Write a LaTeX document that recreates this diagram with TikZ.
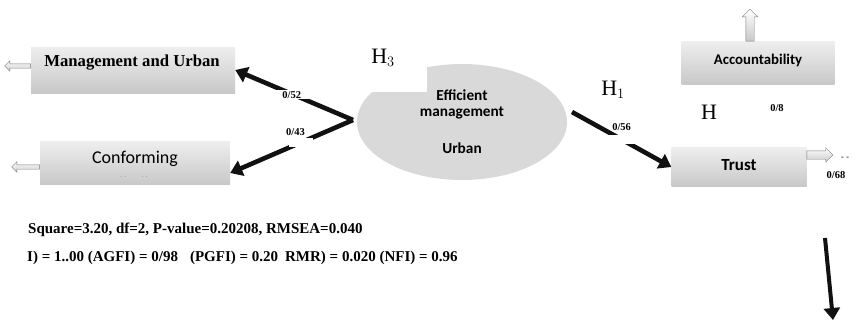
\documentclass[tikz,border=0pt]{standalone}
\usepackage{fontspec}
\setmainfont{Liberation Serif}
\newfontfamily\calfont{Carlito}
\usetikzlibrary{arrows.meta,positioning,shapes.geometric,shapes.arrows}
\definecolor{ink}{HTML}{111111}
\definecolor{boxtop}{HTML}{EEEEEE}
\definecolor{boxbot}{HTML}{C8C8C8}
\definecolor{ellfill}{HTML}{D9D9D9}
\definecolor{hollowedge}{HTML}{7A7A7A}

\tikzset{
  varbox/.style={top color=boxtop,bottom color=boxbot,inner sep=0pt},
  hollow/.style={single arrow,draw=hollowedge,top color=white,bottom color=boxbot,
                 inner sep=2pt,minimum height=26pt,single arrow head extend=3pt},
  pathline/.style={draw=ink,line width=4.6pt,-{Triangle[length=12pt,width=16pt]}},
  gap/.style={fill=white,inner sep=0pt,minimum height=9pt},
  coef/.style={font=\bfseries\fontsize{10.5}{12}\selectfont,inner sep=1pt},
  hyp/.style={font=\fontsize{22}{24}\selectfont,inner sep=0pt},
  fitline/.style={font=\bfseries\fontsize{15}{17}\selectfont,anchor=west,inner sep=0pt}
}

\begin{document}
\begin{tikzpicture}[x=1pt,y=-1pt]
  \useasboundingbox (0,0) rectangle (854,322);

  % measured variables
  \node[varbox,minimum width=204pt,minimum height=46pt] (mgmt) at (133,70) {};
  \node[font=\bfseries\fontsize{16.7}{18}\selectfont] at (132,63) {Management and Urban};
  \node[varbox,minimum width=190pt,minimum height=43pt] (conf) at (135,163) {};
  \node[font=\calfont\fontsize{18}{20}\selectfont] at (135,159) {Conforming};
  \node[font=\fontsize{7}{8}\selectfont,text=gray] at (134,177) {.\,\,.\qquad\ .\,\,.};
  \node[varbox,minimum width=153pt,minimum height=43pt] (acc) at (758,63) {};
  \node[font=\calfont\bfseries\fontsize{14.8}{16}\selectfont] at (758,60) {Accountability};
  \node[varbox,minimum width=135pt,minimum height=39pt] (trust) at (739,167) {};
  \node[font=\calfont\bfseries\fontsize{17}{19}\selectfont] at (739,165) {Trust};

  % latent variable (ellipse with notch)
  \node[ellipse,fill=ellfill,minimum width=210pt,minimum height=116pt] (eff) at (462,122) {};
  \fill[white] (350,55) rectangle (427,92);
  \node[font=\calfont\bfseries\fontsize{15.3}{18}\selectfont] at (462,95) {Efficient};
  \node[font=\calfont\bfseries\fontsize{15.3}{18}\selectfont] at (462,113) {management};
  \node[font=\calfont\bfseries\fontsize{15.3}{18}\selectfont] at (462,148) {Urban};

  % hollow arrows
  \node[hollow,shape border rotate=180,anchor=tail] (mgmtout) at ([yshift=4pt]mgmt.west) {};
  \node[hollow,shape border rotate=180,anchor=tail,minimum height=28pt] (confout) at ([yshift=-4pt]conf.west) {};
  \node[hollow,shape border rotate=90,anchor=tail,minimum height=32pt,inner sep=4pt,
        single arrow head extend=3.5pt] (accout) at ([xshift=-8pt]acc.north) {};
  \node[hollow,anchor=tail,inner sep=4pt,single arrow head extend=3pt] (trustout) at ([yshift=12pt]trust.east) {};
  \node[font=\bfseries\fontsize{8}{9}\selectfont] at (845,158) {-\,\,-};

  % paths
  \coordinate (effw) at (353,120);
  \coordinate (effe) at (572,112);
  \draw[pathline] (effw) -- node[gap,pos=.52,minimum width=44pt] (g52) {} (mgmt.east);
  \node[coef] at ([yshift=-1pt]g52) {0/52};
  \draw[pathline] (effw) -- node[gap,pos=.42,minimum width=24pt,
        label={[coef,yshift=-3pt,xshift=-6pt]above:0/43}] (g43) {} ([yshift=-10pt]conf.east);
  \draw[pathline] (effe) -- node[gap,pos=.5,minimum width=40pt,
        label={[coef,yshift=-1pt]above:0/56}] (g56) {} (trust.west);

  % hypotheses and loose coefficients
  \node[hyp] (h3) at (383,58) {H$_3$};
  \node[hyp] (h1) at (613,90) {H$_1$};
  \node[hyp] (h2) at (709,112) {H};
  \node[coef] (c8) at (777,108) {0/8};
  \node[coef] (c68) at (836,175) {0/68};

  % fit indices
  \node[fitline] (fit1) at (28,230) {Square=3.20, df=2, P-value=0.20208, RMSEA=0.040};
  \node[fitline] (fit2) at (27,258) {I) = 1..00 (AGFI) = 0/98\hspace{12pt}(PGFI) = 0.20\hspace{7pt}RMR) = 0.020 (NFI) = 0.96};

  % stray arrow
  \coordinate (dtop) at (825,238);
  \coordinate (dbot) at (833,320);
  \draw[pathline,line width=4pt] (dtop) -- (dbot);
\end{tikzpicture}
\end{document}
